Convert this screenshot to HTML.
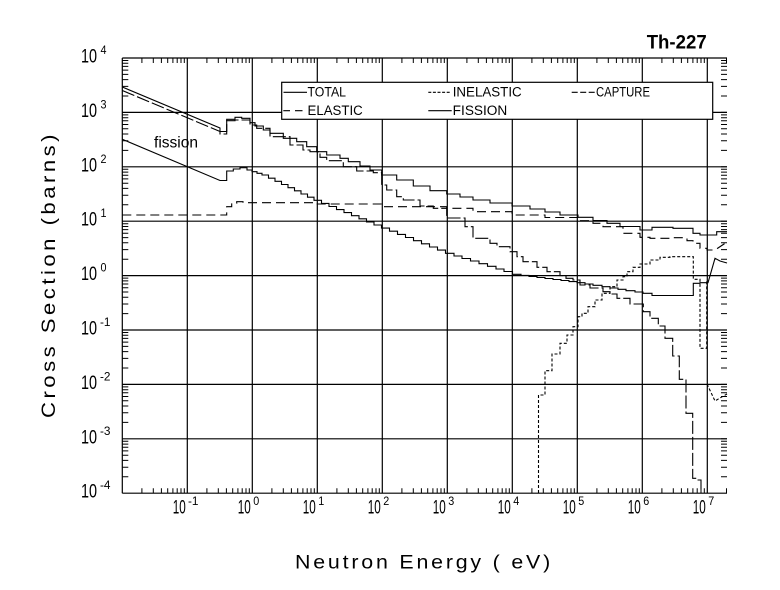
<!DOCTYPE html>
<html><head><meta charset="utf-8"><title>Th-227</title>
<style>
html,body{margin:0;padding:0;background:#fff;}
svg{display:block;}
text{font-family:"Liberation Sans",sans-serif;fill:#000;}
</style></head>
<body>
<svg width="780" height="590" viewBox="0 0 780 590" xmlns="http://www.w3.org/2000/svg">
<rect x="0" y="0" width="780" height="590" fill="#fff"/>

<!-- grid -->
<g stroke="#000" stroke-width="1.2" fill="none">
<path d="M187.3,58V493.2M252.3,58V493.2M317.3,58V493.2M382.3,58V493.2M447.3,58V493.2M512.3,58V493.2M577.3,58V493.2M642.3,58V493.2M707.3,58V493.2"/>
<path d="M122.3,112.4H727M122.3,166.8H727M122.3,221.2H727M122.3,275.6H727M122.3,330H727M122.3,384.4H727M122.3,438.8H727"/>
<path d="M122.3,58H727M122.3,493.2H727M122.3,58V493.2"/>
</g>

<!-- ticks -->
<g stroke="#000" stroke-width="1" fill="none">
<path d="M122.3,476.8h6M122.3,467.2h6M122.3,460.4h6M122.3,455.2h6M122.3,450.9h6M122.3,447.2h6M122.3,444.1h6M122.3,441.3h6
M122.3,422.4h6M122.3,412.8h6M122.3,406h6M122.3,400.8h6M122.3,396.5h6M122.3,392.8h6M122.3,389.7h6M122.3,386.9h6
M122.3,368h6M122.3,358.4h6M122.3,351.6h6M122.3,346.4h6M122.3,342.1h6M122.3,338.4h6M122.3,335.3h6M122.3,332.5h6
M122.3,313.6h6M122.3,304h6M122.3,297.2h6M122.3,292h6M122.3,287.7h6M122.3,284h6M122.3,280.9h6M122.3,278.1h6
M122.3,259.2h6M122.3,249.6h6M122.3,242.8h6M122.3,237.6h6M122.3,233.3h6M122.3,229.6h6M122.3,226.5h6M122.3,223.7h6
M122.3,204.8h6M122.3,195.2h6M122.3,188.4h6M122.3,183.2h6M122.3,178.9h6M122.3,175.2h6M122.3,172.1h6M122.3,169.3h6
M122.3,150.4h6M122.3,140.8h6M122.3,134h6M122.3,128.8h6M122.3,124.5h6M122.3,120.8h6M122.3,117.7h6M122.3,114.9h6
M122.3,96h6M122.3,86.4h6M122.3,79.6h6M122.3,74.4h6M122.3,70.1h6M122.3,66.4h6M122.3,63.3h6M122.3,60.5h6"/>
<path d="M727,476.8h-6M727,467.2h-6M727,460.4h-6M727,455.2h-6M727,450.9h-6M727,447.2h-6M727,444.1h-6M727,441.3h-6M727,438.8h-6
M727,422.4h-6M727,412.8h-6M727,406h-6M727,400.8h-6M727,396.5h-6M727,392.8h-6M727,389.7h-6M727,386.9h-6M727,384.4h-6
M727,368h-6M727,358.4h-6M727,351.6h-6M727,346.4h-6M727,342.1h-6M727,338.4h-6M727,335.3h-6M727,332.5h-6M727,330h-6
M727,313.6h-6M727,304h-6M727,297.2h-6M727,292h-6M727,287.7h-6M727,284h-6M727,280.9h-6M727,278.1h-6M727,275.6h-6
M727,259.2h-6M727,249.6h-6M727,242.8h-6M727,237.6h-6M727,233.3h-6M727,229.6h-6M727,226.5h-6M727,223.7h-6M727,221.2h-6
M727,204.8h-6M727,195.2h-6M727,188.4h-6M727,183.2h-6M727,178.9h-6M727,175.2h-6M727,172.1h-6M727,169.3h-6M727,166.8h-6
M727,150.4h-6M727,140.8h-6M727,134h-6M727,128.8h-6M727,124.5h-6M727,120.8h-6M727,117.7h-6M727,114.9h-6M727,112.4h-6
M727,96h-6M727,86.4h-6M727,79.6h-6M727,74.4h-6M727,70.1h-6M727,66.4h-6M727,63.3h-6M727,60.5h-6"/>
<path d="M141.9,493.2v-5M153.3,493.2v-5M161.4,493.2v-5M167.7,493.2v-5M172.9,493.2v-5M177.2,493.2v-5M181,493.2v-5M184.3,493.2v-5
M206.9,493.2v-5M218.3,493.2v-5M226.4,493.2v-5M232.7,493.2v-5M237.9,493.2v-5M242.2,493.2v-5M246,493.2v-5M249.3,493.2v-5
M271.9,493.2v-5M283.3,493.2v-5M291.4,493.2v-5M297.7,493.2v-5M302.9,493.2v-5M307.2,493.2v-5M311,493.2v-5M314.3,493.2v-5
M336.9,493.2v-5M348.3,493.2v-5M356.4,493.2v-5M362.7,493.2v-5M367.9,493.2v-5M372.2,493.2v-5M376,493.2v-5M379.3,493.2v-5
M401.9,493.2v-5M413.3,493.2v-5M421.4,493.2v-5M427.7,493.2v-5M432.9,493.2v-5M437.2,493.2v-5M441,493.2v-5M444.3,493.2v-5
M466.9,493.2v-5M478.3,493.2v-5M486.4,493.2v-5M492.7,493.2v-5M497.9,493.2v-5M502.2,493.2v-5M506,493.2v-5M509.3,493.2v-5
M531.9,493.2v-5M543.3,493.2v-5M551.4,493.2v-5M557.7,493.2v-5M562.9,493.2v-5M567.2,493.2v-5M571,493.2v-5M574.3,493.2v-5
M596.9,493.2v-5M608.3,493.2v-5M616.4,493.2v-5M622.7,493.2v-5M627.9,493.2v-5M632.2,493.2v-5M636,493.2v-5M639.3,493.2v-5
M661.9,493.2v-5M673.3,493.2v-5M681.4,493.2v-5M687.7,493.2v-5M692.9,493.2v-5M697.2,493.2v-5M701,493.2v-5M704.3,493.2v-5
M726.5,493.2v-5"/>
<path d="M141.9,58v5M153.3,58v5M161.4,58v5M167.7,58v5M172.9,58v5M177.2,58v5M181,58v5M184.3,58v5
M206.9,58v5M218.3,58v5M226.4,58v5M232.7,58v5M237.9,58v5M242.2,58v5M246,58v5M249.3,58v5
M271.9,58v5M283.3,58v5M291.4,58v5M297.7,58v5M302.9,58v5M307.2,58v5M311,58v5M314.3,58v5
M336.9,58v5M348.3,58v5M356.4,58v5M362.7,58v5M367.9,58v5M372.2,58v5M376,58v5M379.3,58v5
M401.9,58v5M413.3,58v5M421.4,58v5M427.7,58v5M432.9,58v5M437.2,58v5M441,58v5M444.3,58v5
M466.9,58v5M478.3,58v5M486.4,58v5M492.7,58v5M497.9,58v5M502.2,58v5M506,58v5M509.3,58v5
M531.9,58v5M543.3,58v5M551.4,58v5M557.7,58v5M562.9,58v5M567.2,58v5M571,58v5M574.3,58v5
M596.9,58v5M608.3,58v5M616.4,58v5M622.7,58v5M627.9,58v5M632.2,58v5M636,58v5M639.3,58v5
M661.9,58v5M673.3,58v5M681.4,58v5M687.7,58v5M692.9,58v5M697.2,58v5M701,58v5M704.3,58v5
M726.5,58v5"/>
</g>

<!-- curves -->
<g fill="none" stroke="#000" stroke-width="1.1">
<path d="M122.3,87 L220,128 V131.5 H226.7 V119.3 H235 V117.3 H241.7 V118.3 H250 V122.7 H255 V126 H263.3 V130 H270 V133.3 H283.3 V138.3 H296.7 V141.7 H306.7 V146.7 H316.7 V151.7 H326.7 V155 H340 V158.3 H348.3 V161.7 H360 V166 H370 V170 H381.7 V175 H396.7 V180 H413.3 V186 H430 V190.7 H446.7 V194 H460 V197 H473 V200 H490 V203 H512 V206 H530 V209 H545 V212 H560 V215 H578 V217.3 H593 V220.5 H607 V223.3 H620 V226.5 H640 V230 H652 V227.3 H673 V228.3 H693 V233.3 H700 V235 H716.7 V231.7 H727"/>
<path d="M122.3,139.3 L220,180.5 H226.7 V171 H233.3 V169 H240 V167.7 H247 V170 H252 V171.7 H257 V173.3 H262 V175 H268.5 V178.2 H275 V181.3 H281.5 V184.5 H288 V187.7 H294.5 V190.8 H301 V194 H307.5 V197.2 H314 V200.3 H321.5 V203.4 H329 V206.5 H336.5 V209.6 H344 V212.6 H351.5 V215.7 H359 V218.8 H366.5 V221.9 H374 V225 H381.5 V228.1 H389.5 V231.2 H397.5 V234.4 H405.5 V237.5 H413.5 V240.7 H421.5 V243.8 H429.5 V247 H437.5 V250.1 H445.5 V253.3 H454 V256 H462 V258.5 H470.5 V261 H479 V263.7 H487.5 V266.3 H496 V269 H504 V271.5 H512.5 V274.3 H521 V275.4 H529 V276.5 H537 V277.5 H545 V278.5 H553 V279.5 H561 V280.5 H569 V281.6 H577 V282.7 H585 V284 H593 V285.3 H602 V286.7 H610 V288 H618 V289.3 H626 V290.7 H635 V292 H643 V293.3 H652 V295.5 H693.3 V283.3 H700 V282.7 H708 L715,258.3 L720,261 L727,263"/>
<path stroke-dasharray="13 3" d="M122.3,90.5 L220,131.5 V134 H226.7 V120.7 H235 V120 H250 V125 H256.7 V128.3 H270 V136.7 H290 V145 H303 V150 H310 V151.7 H320 V157.3 H326.7 V160.7 H343.3 V166.7 H356.7 V171 H373.3 V172.7 H381.7 V185 H386.7 V190 H396.7 V196.7 H403.3 V200 H420 V206 H433.3 V208.3 H446.7 V218 H465 V226.7 H473 V238.3 H490 V243.3 H497 V246.7 H510 V251.7 H517 V256.7 H523 V261.7 H537 V267.3 H547 V271.7 H560 V275.6 H566 V278.3 H573 V280 H580 V285 H590 V288 H603 V291.7 H610 V294 H617 V298.3 H630 V304 H643.3 V311.7 H650 V318.3 H658.3 V326 H665 V338.3 H672.7 V356 H679.3 V379.3 H686 V413.3 H692.7 V478.3 H697 V480 H701 V493"/>
<path stroke-dasharray="3 2" d="M707,384 L715,401 L720,398 L727,394"/>
<path stroke-dasharray="9 5" d="M122.3,215 H226.7 V206.7 H231.7 V203.3 H236.7 V201.7 H243 V202.7 H316.7 V204 H383 V206.7 H446.7 V208.3 H473 V211.7 H512 V215 H545 V217.5 H578 V220.7 H593 V223.3 H603 V226.7 H623 V233.3 H640 V237.3 H650 V238.3 H673 V237.7 H687 V240.7 H693 V243.3 H700 V248.3 H707 V250 H715 L727,242"/>
<path stroke-dasharray="3 2" d="M538.5,493 V395 H545 V370.7 H552 V354 H560 V343.3 H567 V335 H573 V326.7 H578 V316.7 H582 V313.3 H588 V306.7 H595 V300 H602 V293.3 H610 V286.7 H617 V280 H623 V276.7 H627 V271.7 H633 V267.3 H640 V264 H650 V260 H660 V257.3 H670 V256.7 H693.3 V279.3 H700 V348.3 H706.7 V281"/>
</g>

<!-- legend -->
<rect x="281.7" y="82.3" width="431" height="37" fill="#fff" stroke="#000" stroke-width="1.2"/>
<g stroke="#000" stroke-width="1.1" fill="none">
<path d="M283.5,92.3H307"/>
<path stroke-dasharray="3 1.6" d="M428.3,92.3H450"/>
<path stroke-dasharray="6 2.5" d="M571.7,92.3H595"/>
<path d="M283.3,110.7H290M295,110.7H302.5"/>
<path d="M428.3,110.7H451.7"/>
</g>
<g font-size="13.5">
<text x="307.5" y="96.7" textLength="38.5" lengthAdjust="spacingAndGlyphs">TOTAL</text>
<text x="452.7" y="96.7" textLength="69" lengthAdjust="spacingAndGlyphs">INELASTIC</text>
<text x="596" y="96.7" textLength="54" lengthAdjust="spacingAndGlyphs">CAPTURE</text>
<text x="307.5" y="115" textLength="55.2" lengthAdjust="spacingAndGlyphs">ELASTIC</text>
<text x="452.7" y="115" textLength="54.6" lengthAdjust="spacingAndGlyphs">FISSION</text>
</g>

<text x="154" y="147.5" font-size="15.5" textLength="44" lengthAdjust="spacingAndGlyphs">fission</text>

<text x="646.7" y="48.3" font-size="19" font-weight="bold" textLength="60" lengthAdjust="spacingAndGlyphs">Th-227</text>

<!-- y tick labels -->
<g font-size="19">
<text x="81" y="62.5" textLength="16" lengthAdjust="spacingAndGlyphs">10</text>
<text x="81" y="116.9" textLength="16" lengthAdjust="spacingAndGlyphs">10</text>
<text x="81" y="171.3" textLength="16" lengthAdjust="spacingAndGlyphs">10</text>
<text x="81" y="225.7" textLength="16" lengthAdjust="spacingAndGlyphs">10</text>
<text x="81" y="280.1" textLength="16" lengthAdjust="spacingAndGlyphs">10</text>
<text x="81" y="334.5" textLength="16" lengthAdjust="spacingAndGlyphs">10</text>
<text x="81" y="388.9" textLength="16" lengthAdjust="spacingAndGlyphs">10</text>
<text x="81" y="443.3" textLength="16" lengthAdjust="spacingAndGlyphs">10</text>
<text x="81" y="497.7" textLength="16" lengthAdjust="spacingAndGlyphs">10</text>
</g>
<g font-size="11.5">
<text x="100.5" y="54" textLength="6" lengthAdjust="spacingAndGlyphs">4</text>
<text x="100.5" y="108.4" textLength="6" lengthAdjust="spacingAndGlyphs">3</text>
<text x="100.5" y="162.8" textLength="6" lengthAdjust="spacingAndGlyphs">2</text>
<text x="100.5" y="217.2" textLength="6" lengthAdjust="spacingAndGlyphs">1</text>
<text x="100.5" y="271.6" textLength="6" lengthAdjust="spacingAndGlyphs">0</text>
<text x="100" y="326" textLength="10.5" lengthAdjust="spacingAndGlyphs">-1</text>
<text x="100" y="380.4" textLength="10.5" lengthAdjust="spacingAndGlyphs">-2</text>
<text x="100" y="434.8" textLength="10.5" lengthAdjust="spacingAndGlyphs">-3</text>
<text x="100" y="489.2" textLength="10.5" lengthAdjust="spacingAndGlyphs">-4</text>
</g>

<!-- x tick labels -->
<g font-size="19">
<text x="172.8" y="513.5" textLength="13" lengthAdjust="spacingAndGlyphs">10</text>
<text x="237.8" y="513.5" textLength="13" lengthAdjust="spacingAndGlyphs">10</text>
<text x="302.8" y="513.5" textLength="13" lengthAdjust="spacingAndGlyphs">10</text>
<text x="367.8" y="513.5" textLength="13" lengthAdjust="spacingAndGlyphs">10</text>
<text x="432.8" y="513.5" textLength="13" lengthAdjust="spacingAndGlyphs">10</text>
<text x="497.8" y="513.5" textLength="13" lengthAdjust="spacingAndGlyphs">10</text>
<text x="562.8" y="513.5" textLength="13" lengthAdjust="spacingAndGlyphs">10</text>
<text x="627.8" y="513.5" textLength="13" lengthAdjust="spacingAndGlyphs">10</text>
<text x="692.8" y="513.5" textLength="13" lengthAdjust="spacingAndGlyphs">10</text>
</g>
<g font-size="11.5">
<text x="188" y="505" textLength="10.5" lengthAdjust="spacingAndGlyphs">-1</text>
<text x="253.3" y="505" textLength="6" lengthAdjust="spacingAndGlyphs">0</text>
<text x="318.3" y="505" textLength="6" lengthAdjust="spacingAndGlyphs">1</text>
<text x="383.3" y="505" textLength="6" lengthAdjust="spacingAndGlyphs">2</text>
<text x="448.3" y="505" textLength="6" lengthAdjust="spacingAndGlyphs">3</text>
<text x="513.3" y="505" textLength="6" lengthAdjust="spacingAndGlyphs">4</text>
<text x="578.3" y="505" textLength="6" lengthAdjust="spacingAndGlyphs">5</text>
<text x="643.3" y="505" textLength="6" lengthAdjust="spacingAndGlyphs">6</text>
<text x="708.3" y="505" textLength="6" lengthAdjust="spacingAndGlyphs">7</text>
</g>

<!-- axis titles -->
<text x="295" y="568.3" font-size="19" letter-spacing="2.5" textLength="258" lengthAdjust="spacingAndGlyphs">Neutron Energy ( eV)</text>
<text transform="translate(55,418) rotate(-90)" x="0" y="0" font-size="19" letter-spacing="3" textLength="287" lengthAdjust="spacingAndGlyphs">Cross Section (barns)</text>
</svg>
</body></html>
